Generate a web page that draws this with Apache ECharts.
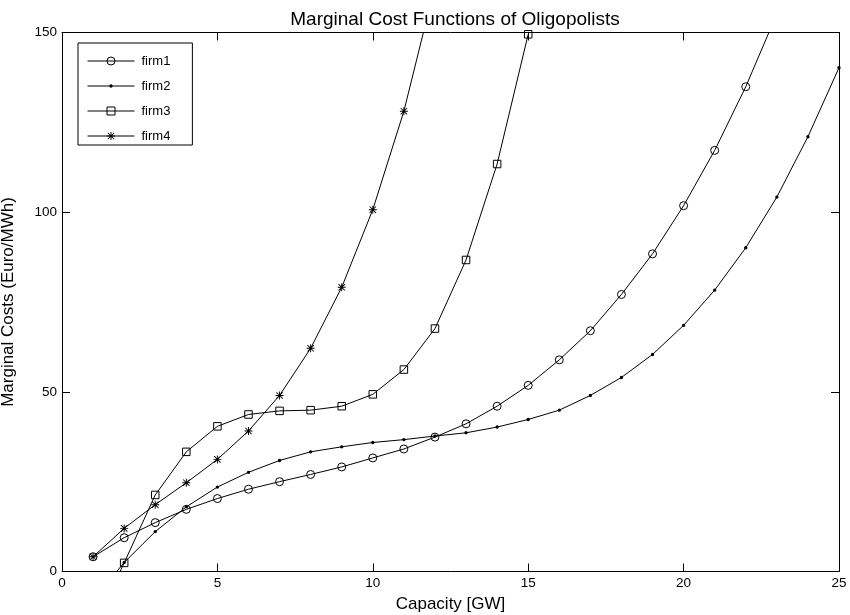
<!DOCTYPE html>
<html>
<head>
<meta charset="utf-8">
<script src="https://cdn.jsdelivr.net/npm/echarts@6/dist/echarts.min.js"></script>
<style>html,body{margin:0;padding:0;background:#fff}#c{width:850px;height:615px}</style>
</head>
<body>
<div id="c"></div>
<script>
const capacity = [1,2,3,4,5,6,7,8,9,10,11,12,13,14,15,16,17,18,19,20,21,22,23,24,25];
const firm1 = [4.1, 9.4, 13.6, 17.3, 20.3, 22.9, 25.0, 27.0, 29.1, 31.6, 34.1, 37.4, 41.1, 46.0, 51.8, 58.9, 67.0, 77.1, 88.4, 101.8, 117.2, 134.9, 155.2];
const firm2 = [-8, 2.5, 11.1, 18.0, 23.5, 27.6, 30.9, 33.3, 34.7, 35.9, 36.7, 37.7, 38.6, 40.2, 42.3, 44.9, 49.0, 54.0, 60.4, 68.5, 78.3, 90.1, 104.2, 121.0, 140.2];
const firm3 = [-16, 2.4, 21.3, 33.3, 40.4, 43.7, 44.7, 44.9, 46.0, 49.3, 56.2, 67.6, 86.7, 113.4, 149.5];
const firm4 = [4.1, 12.0, 18.6, 24.7, 31.2, 39.1, 49.0, 62.1, 79.1, 100.7, 128.1, 163];
const seriesNames = ['firm1', 'firm2', 'firm3', 'firm4'];
const xTicks = [0, 5, 10, 15, 20, 25];
const yTicks = [0, 50, 100, 150];

const FONT = 'Liberation Sans, Arial, Helvetica, sans-serif';
const asterisk = 'path://M4.4,0L5.6,0L5.6,10L4.4,10Z M0,4.4L10,4.4L10,5.6L0,5.6Z M0.6,1.4L1.4,0.6L9.4,8.6L8.6,9.4Z M8.6,0.6L9.4,1.4L1.4,9.4L0.6,8.6Z';
const dot = 'path://M0,0L0.001,0L0,0.001Z M10,10L9.999,10L10,9.999Z M5,2.9A2.1,2.1 0 1 1 5,7.1A2.1,2.1 0 1 1 5,2.9Z';

function pairs(arr) { return arr.map((v, i) => [capacity[i], v]); }

const hollow = {color: 'rgba(0,0,0,0)', borderColor: '#000', borderWidth: 1};
const filled = {color: '#000', borderWidth: 0};
const styles = [
  {symbol: 'circle', symbolSize: 8, itemStyle: hollow},
  {symbol: dot, symbolSize: 8, itemStyle: filled},
  {symbol: 'rect', symbolSize: 7.5, itemStyle: hollow},
  {symbol: asterisk, symbolSize: 8, itemStyle: filled}
];
const datas = [firm1, firm2, firm3, firm4];

const series = seriesNames.map((n, k) => ({
  name: n,
  type: 'line',
  data: pairs(datas[k]),
  symbol: styles[k].symbol,
  symbolSize: styles[k].symbolSize,
  showAllSymbol: true,
  itemStyle: styles[k].itemStyle,
  lineStyle: {color: '#000', width: 1},
  clip: true,
  smooth: false,
  emphasis: {disabled: true},
  z: 2
}));

const axisCommon = {
  axisLine: {show: true, onZero: false, lineStyle: {color: '#000', width: 1}},
  axisTick: {show: true, inside: true, length: 8, lineStyle: {color: '#000', width: 1}},
  splitLine: {show: false}
};

const chart = echarts.init(document.getElementById('c'), null, {renderer: 'canvas'});
chart.setOption({
  animation: false,
  backgroundColor: '#fff',
  title: {
    text: 'Marginal Cost Functions of Oligopolists',
    left: 450, top: 5, textAlign: 'center',
    textStyle: {fontFamily: FONT, fontSize: 19, fontWeight: 'normal', color: '#000'}
  },
  grid: {left: 62, right: 11, top: 32.5, bottom: 43.5, containLabel: false, outerBoundsMode: 'none'},
  legend: {
    data: seriesNames.map((n, k) => ({
      name: n,
      itemStyle: Object.assign({}, styles[k].itemStyle)
    })),
    orient: 'vertical',
    left: 78, top: 43,
    padding: [11, 22, 2, 9],
    itemGap: 11,
    itemWidth: 47, itemHeight: 10,
    backgroundColor: '#fff',
    borderColor: '#000', borderWidth: 1, borderRadius: 0,
    lineStyle: {width: 1, color: '#000'},
    textStyle: {fontFamily: FONT, fontSize: 13, color: '#000', lineHeight: 14, padding: [0, 0, 0, 2]}
  },
  xAxis: [
    Object.assign({}, axisCommon, {
      type: 'value', min: 0, max: 25, interval: 5, position: 'bottom',
      name: 'Capacity [GW]', nameLocation: 'middle', nameGap: 22,
      nameTextStyle: {fontFamily: FONT, fontSize: 17, color: '#000'},
      axisLabel: {fontFamily: FONT, fontSize: 13.5, color: '#000', margin: 5,
        formatter: v => (xTicks.indexOf(v) >= 0 ? String(v) : '')}
    }),
    Object.assign({}, axisCommon, {
      type: 'value', min: 0, max: 25, interval: 5, position: 'top',
      axisLabel: {show: false}
    })
  ],
  yAxis: [
    Object.assign({}, axisCommon, {
      type: 'value', min: 0, max: 150, interval: 50, position: 'left',
      name: 'Marginal Costs (Euro/MWh)', nameLocation: 'middle', nameGap: 45,
      nameTextStyle: {fontFamily: FONT, fontSize: 17, color: '#000'},
      axisLabel: {fontFamily: FONT, fontSize: 13.5, color: '#000', margin: 5,
        formatter: v => (yTicks.indexOf(v) >= 0 ? String(v) : '')}
    }),
    Object.assign({}, axisCommon, {
      type: 'value', min: 0, max: 150, interval: 50, position: 'right',
      axisLabel: {show: false}
    })
  ],
  series: series
});
</script>
</body>
</html>
